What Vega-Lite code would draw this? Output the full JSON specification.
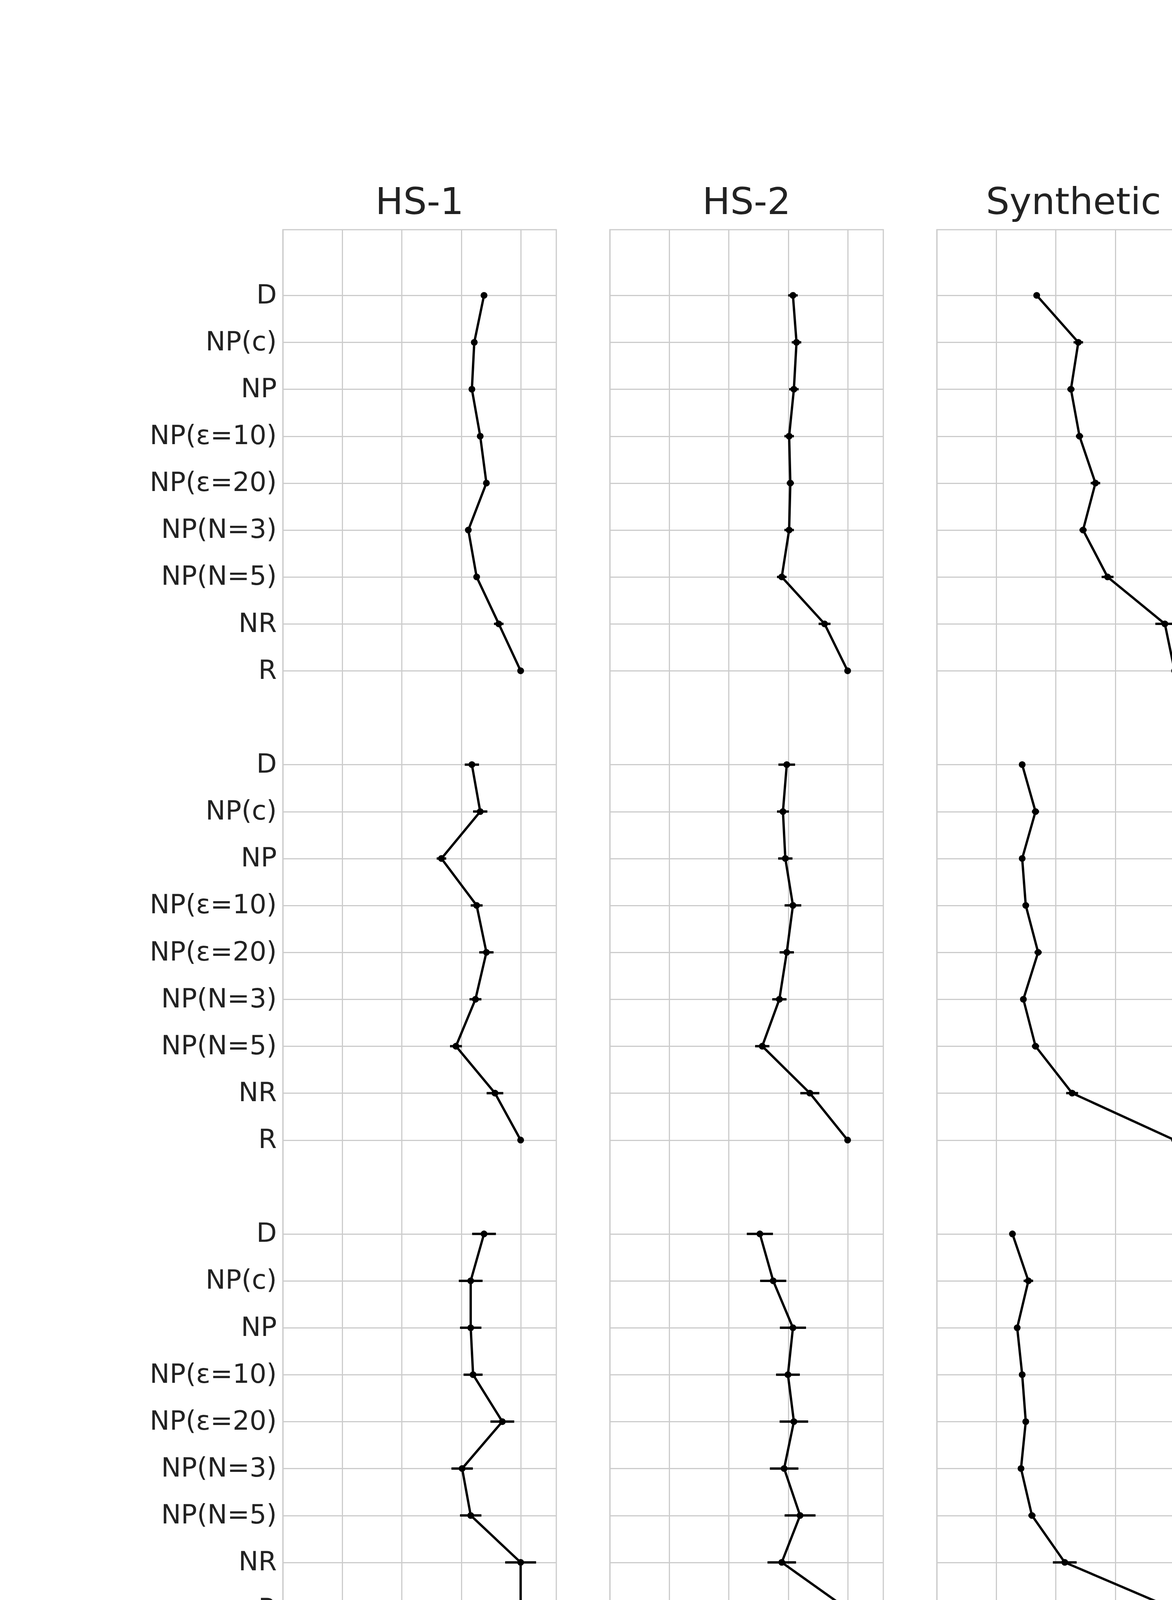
{
  "$schema": "https://vega.github.io/schema/vega-lite/v6.json",
  "padding": {"left": 381, "top": 470, "right": 5, "bottom": 5},
  "bounds": "flush",
  "background": "white",
  "data": {"values": [
    {"ds":"HS-1","b":1,"pos":0,"v":0.846,"lo":0.836,"hi":0.856},
    {"ds":"HS-1","b":1,"pos":1,"v":0.805,"lo":0.795,"hi":0.815},
    {"ds":"HS-1","b":1,"pos":2,"v":0.795,"lo":0.785,"hi":0.805},
    {"ds":"HS-1","b":1,"pos":3,"v":0.83,"lo":0.82,"hi":0.84},
    {"ds":"HS-1","b":1,"pos":4,"v":0.856,"lo":0.846,"hi":0.866},
    {"ds":"HS-1","b":1,"pos":5,"v":0.78,"lo":0.77,"hi":0.79},
    {"ds":"HS-1","b":1,"pos":6,"v":0.815,"lo":0.805,"hi":0.825},
    {"ds":"HS-1","b":1,"pos":7,"v":0.908,"lo":0.888,"hi":0.928},
    {"ds":"HS-1","b":1,"pos":8,"v":1.0,"lo":1.0,"hi":1.0},
    {"ds":"HS-1","b":2,"pos":10,"v":0.795,"lo":0.765,"hi":0.825},
    {"ds":"HS-1","b":2,"pos":11,"v":0.83,"lo":0.8,"hi":0.86},
    {"ds":"HS-1","b":2,"pos":12,"v":0.667,"lo":0.647,"hi":0.687},
    {"ds":"HS-1","b":2,"pos":13,"v":0.815,"lo":0.79,"hi":0.84},
    {"ds":"HS-1","b":2,"pos":14,"v":0.856,"lo":0.826,"hi":0.886},
    {"ds":"HS-1","b":2,"pos":15,"v":0.81,"lo":0.785,"hi":0.835},
    {"ds":"HS-1","b":2,"pos":16,"v":0.728,"lo":0.703,"hi":0.753},
    {"ds":"HS-1","b":2,"pos":17,"v":0.892,"lo":0.857,"hi":0.927},
    {"ds":"HS-1","b":2,"pos":18,"v":1.0,"lo":1.0,"hi":1.0},
    {"ds":"HS-1","b":3,"pos":20,"v":0.846,"lo":0.796,"hi":0.896},
    {"ds":"HS-1","b":3,"pos":21,"v":0.79,"lo":0.74,"hi":0.84},
    {"ds":"HS-1","b":3,"pos":22,"v":0.79,"lo":0.745,"hi":0.835},
    {"ds":"HS-1","b":3,"pos":23,"v":0.8,"lo":0.76,"hi":0.84},
    {"ds":"HS-1","b":3,"pos":24,"v":0.923,"lo":0.873,"hi":0.973},
    {"ds":"HS-1","b":3,"pos":25,"v":0.754,"lo":0.709,"hi":0.799},
    {"ds":"HS-1","b":3,"pos":26,"v":0.79,"lo":0.745,"hi":0.835},
    {"ds":"HS-1","b":3,"pos":27,"v":1.0,"lo":0.935,"hi":1.065},
    {"ds":"HS-1","b":3,"pos":28,"v":1.0,"lo":1.0,"hi":1.0},
    {"ds":"HS-2","b":1,"pos":0,"v":0.77,"lo":0.75,"hi":0.79},
    {"ds":"HS-2","b":1,"pos":1,"v":0.785,"lo":0.765,"hi":0.805},
    {"ds":"HS-2","b":1,"pos":2,"v":0.774,"lo":0.754,"hi":0.794},
    {"ds":"HS-2","b":1,"pos":3,"v":0.754,"lo":0.734,"hi":0.774},
    {"ds":"HS-2","b":1,"pos":4,"v":0.759,"lo":0.744,"hi":0.774},
    {"ds":"HS-2","b":1,"pos":5,"v":0.754,"lo":0.734,"hi":0.774},
    {"ds":"HS-2","b":1,"pos":6,"v":0.723,"lo":0.703,"hi":0.743},
    {"ds":"HS-2","b":1,"pos":7,"v":0.903,"lo":0.878,"hi":0.928},
    {"ds":"HS-2","b":1,"pos":8,"v":1.0,"lo":1.0,"hi":1.0},
    {"ds":"HS-2","b":2,"pos":10,"v":0.744,"lo":0.709,"hi":0.779},
    {"ds":"HS-2","b":2,"pos":11,"v":0.728,"lo":0.703,"hi":0.753},
    {"ds":"HS-2","b":2,"pos":12,"v":0.738,"lo":0.708,"hi":0.768},
    {"ds":"HS-2","b":2,"pos":13,"v":0.77,"lo":0.735,"hi":0.805},
    {"ds":"HS-2","b":2,"pos":14,"v":0.744,"lo":0.714,"hi":0.774},
    {"ds":"HS-2","b":2,"pos":15,"v":0.713,"lo":0.683,"hi":0.743},
    {"ds":"HS-2","b":2,"pos":16,"v":0.641,"lo":0.611,"hi":0.671},
    {"ds":"HS-2","b":2,"pos":17,"v":0.841,"lo":0.801,"hi":0.881},
    {"ds":"HS-2","b":2,"pos":18,"v":1.0,"lo":1.0,"hi":1.0},
    {"ds":"HS-2","b":3,"pos":20,"v":0.631,"lo":0.576,"hi":0.686},
    {"ds":"HS-2","b":3,"pos":21,"v":0.687,"lo":0.632,"hi":0.742},
    {"ds":"HS-2","b":3,"pos":22,"v":0.77,"lo":0.715,"hi":0.825},
    {"ds":"HS-2","b":3,"pos":23,"v":0.749,"lo":0.699,"hi":0.799},
    {"ds":"HS-2","b":3,"pos":24,"v":0.774,"lo":0.714,"hi":0.834},
    {"ds":"HS-2","b":3,"pos":25,"v":0.733,"lo":0.673,"hi":0.793},
    {"ds":"HS-2","b":3,"pos":26,"v":0.8,"lo":0.735,"hi":0.865},
    {"ds":"HS-2","b":3,"pos":27,"v":0.723,"lo":0.663,"hi":0.783},
    {"ds":"HS-2","b":3,"pos":28,"v":1.0,"lo":1.0,"hi":1.0},
    {"ds":"Synthetic","b":1,"pos":0,"v":0.42,"lo":0.41,"hi":0.43},
    {"ds":"Synthetic","b":1,"pos":1,"v":0.595,"lo":0.575,"hi":0.615},
    {"ds":"Synthetic","b":1,"pos":2,"v":0.564,"lo":0.549,"hi":0.579},
    {"ds":"Synthetic","b":1,"pos":3,"v":0.6,"lo":0.585,"hi":0.615},
    {"ds":"Synthetic","b":1,"pos":4,"v":0.667,"lo":0.647,"hi":0.687},
    {"ds":"Synthetic","b":1,"pos":5,"v":0.615,"lo":0.6,"hi":0.63},
    {"ds":"Synthetic","b":1,"pos":6,"v":0.718,"lo":0.693,"hi":0.743},
    {"ds":"Synthetic","b":1,"pos":7,"v":0.959,"lo":0.919,"hi":0.999},
    {"ds":"Synthetic","b":1,"pos":8,"v":1.0,"lo":1.0,"hi":1.0},
    {"ds":"Synthetic","b":2,"pos":10,"v":0.359,"lo":0.349,"hi":0.369},
    {"ds":"Synthetic","b":2,"pos":11,"v":0.415,"lo":0.4,"hi":0.43},
    {"ds":"Synthetic","b":2,"pos":12,"v":0.359,"lo":0.349,"hi":0.369},
    {"ds":"Synthetic","b":2,"pos":13,"v":0.374,"lo":0.364,"hi":0.384},
    {"ds":"Synthetic","b":2,"pos":14,"v":0.426,"lo":0.411,"hi":0.441},
    {"ds":"Synthetic","b":2,"pos":15,"v":0.364,"lo":0.354,"hi":0.374},
    {"ds":"Synthetic","b":2,"pos":16,"v":0.415,"lo":0.4,"hi":0.43},
    {"ds":"Synthetic","b":2,"pos":17,"v":0.569,"lo":0.544,"hi":0.594},
    {"ds":"Synthetic","b":2,"pos":18,"v":1.0,"lo":1.0,"hi":1.0},
    {"ds":"Synthetic","b":3,"pos":20,"v":0.318,"lo":0.308,"hi":0.328},
    {"ds":"Synthetic","b":3,"pos":21,"v":0.385,"lo":0.365,"hi":0.405},
    {"ds":"Synthetic","b":3,"pos":22,"v":0.338,"lo":0.328,"hi":0.348},
    {"ds":"Synthetic","b":3,"pos":23,"v":0.359,"lo":0.349,"hi":0.369},
    {"ds":"Synthetic","b":3,"pos":24,"v":0.374,"lo":0.364,"hi":0.384},
    {"ds":"Synthetic","b":3,"pos":25,"v":0.354,"lo":0.344,"hi":0.364},
    {"ds":"Synthetic","b":3,"pos":26,"v":0.4,"lo":0.385,"hi":0.415},
    {"ds":"Synthetic","b":3,"pos":27,"v":0.538,"lo":0.488,"hi":0.588},
    {"ds":"Synthetic","b":3,"pos":28,"v":1.0,"lo":1.0,"hi":1.0}
  ]},
  "spacing": 137,
  "hconcat": [
    {
      "title": "HS-1",
      "width": 700, "height": 3700,
      "transform": [{"filter": "datum.ds == 'HS-1'"}],
      "encoding": {
        "y": {"field": "pos", "type": "quantitative",
          "scale": {"domain": [-1.4, 29.4], "reverse": true, "nice": false, "zero": false},
          "axis": {"title": null, "values": [0,1,2,3,4,5,6,7,8,10,11,12,13,14,15,16,17,18,20,21,22,23,24,25,26,27,28],
            "labelExpr": "['D','NP(c)','NP','NP(ε=10)','NP(ε=20)','NP(N=3)','NP(N=5)','NR','R'][datum.value % 10]",
            "labelFontSize": 68, "labelPadding": 16, "labelLimit": 0, "labelColor": "#222222"}},
        "x": {"field": "v", "type": "quantitative",
          "scale": {"domain": [0, 1.15], "nice": false},
          "axis": {"title": null, "values": [0,0.25,0.5,0.75,1], "format": ".0%", "labelFontSize": 40, "labelColor": "#222222"}}
      },
      "layer": [
        {"mark": {"type": "line", "color": "black", "strokeWidth": 6}, "encoding": {"detail": {"field": "b"}, "order": {"field": "pos"}}},
        {"mark": {"type": "rule", "color": "black", "strokeWidth": 6}, "encoding": {"x": {"field": "lo", "type": "quantitative"}, "x2": {"field": "hi"}}},
        {"mark": {"type": "point", "filled": true, "color": "black", "size": 300, "opacity": 1}}
      ]
    },
    {
      "title": "HS-2",
      "width": 700, "height": 3700,
      "transform": [{"filter": "datum.ds == 'HS-2'"}],
      "encoding": {
        "y": {"field": "pos", "type": "quantitative",
          "scale": {"domain": [-1.4, 29.4], "reverse": true, "nice": false, "zero": false},
          "axis": {"title": null, "values": [0,1,2,3,4,5,6,7,8,10,11,12,13,14,15,16,17,18,20,21,22,23,24,25,26,27,28], "labels": false}},
        "x": {"field": "v", "type": "quantitative",
          "scale": {"domain": [0, 1.15], "nice": false},
          "axis": {"title": "Proportion of susceptible infected on average, relative to randomly vaccinating", "titleFontSize": 62, "titleFontWeight": "normal", "titlePadding": 14, "titleLimit": 0, "titleColor": "#222222", "values": [0,0.25,0.5,0.75,1], "format": ".0%", "labelFontSize": 40, "labelColor": "#222222"}}
      },
      "layer": [
        {"mark": {"type": "line", "color": "black", "strokeWidth": 6}, "encoding": {"detail": {"field": "b"}, "order": {"field": "pos"}}},
        {"mark": {"type": "rule", "color": "black", "strokeWidth": 6}, "encoding": {"x": {"field": "lo", "type": "quantitative"}, "x2": {"field": "hi"}}},
        {"mark": {"type": "point", "filled": true, "color": "black", "size": 300, "opacity": 1}}
      ]
    },
    {
      "title": "Synthetic",
      "width": 700, "height": 3700,
      "transform": [{"filter": "datum.ds == 'Synthetic'"}],
      "encoding": {
        "y": {"field": "pos", "type": "quantitative",
          "scale": {"domain": [-1.4, 29.4], "reverse": true, "nice": false, "zero": false},
          "axis": {"title": null, "values": [0,1,2,3,4,5,6,7,8,10,11,12,13,14,15,16,17,18,20,21,22,23,24,25,26,27,28], "labels": false}},
        "x": {"field": "v", "type": "quantitative",
          "scale": {"domain": [0, 1.15], "nice": false},
          "axis": {"title": null, "values": [0,0.25,0.5,0.75,1], "format": ".0%", "labelFontSize": 40, "labelColor": "#222222"}}
      },
      "layer": [
        {"mark": {"type": "line", "color": "black", "strokeWidth": 6}, "encoding": {"detail": {"field": "b"}, "order": {"field": "pos"}}},
        {"mark": {"type": "rule", "color": "black", "strokeWidth": 6}, "encoding": {"x": {"field": "lo", "type": "quantitative"}, "x2": {"field": "hi"}}},
        {"mark": {"type": "point", "filled": true, "color": "black", "size": 300, "opacity": 1}}
      ]
    }
  ],
  "resolve": {"scale": {"y": "shared"}},
  "config": {
    "font": "DejaVu Sans",
    "view": {"stroke": "#cccccc", "strokeWidth": 3},
    "axis": {"grid": true, "gridColor": "#cccccc", "gridWidth": 3, "domain": false, "ticks": false, "labelFont": "DejaVu Sans", "titleFont": "DejaVu Sans"},
    "axisX": {"labelPadding": 14},
    "title": {"fontSize": 95, "fontWeight": "normal", "color": "#222222", "font": "DejaVu Sans", "offset": 20}
  }
}
